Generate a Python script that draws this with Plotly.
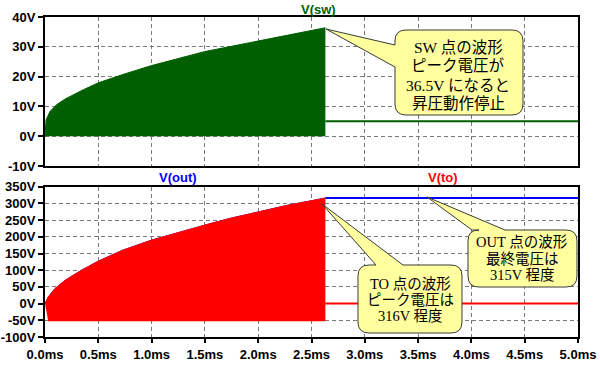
import plotly.graph_objects as go

# ---------------- data ----------------
t_stop = 2.63  # ms, switching stops here
t_end = 5.0

sw_t = [0, 0.01, 0.047, 0.11, 0.19, 0.27, 0.36, 0.5, 0.73, 1.0, 1.2, 1.36, 1.5, 1.735, 2.0, 2.27, 2.5, 2.63]
sw_peak = [0, 5.5, 8.3, 10.6, 12.5, 14.0, 15.6, 17.9, 20.7, 23.7, 25.7, 27.1, 28.4, 30.1, 32.0, 33.9, 35.5, 36.4]
sw_low_t = [0, 2.63]
sw_low = [0, 0]
sw_hold = 5.0

to_t = [0, 0.031, 0.094, 0.19, 0.266, 0.344, 0.5, 0.73, 1.0, 1.27, 1.5, 1.735, 2.0, 2.27, 2.5, 2.63]
to_peak = [0, 20, 45, 70, 85, 100, 127, 160, 190, 215, 235, 255, 275, 294, 308, 316]
to_low_t = [0, 0.03, 2.63]
to_low = [0, -53, -53]
to_hold = 0

out_t = [0, 0.031, 0.094, 0.19, 0.266, 0.344, 0.5, 0.73, 1.0, 1.27, 1.5, 1.735, 2.0, 2.27, 2.5, 2.63]
out_v = [0, 20, 45, 70, 85, 100, 127, 160, 190, 215, 235, 255, 275, 294, 308, 316]
out_hold = 316

x_ticks = [0, 0.5, 1.0, 1.5, 2.0, 2.5, 3.0, 3.5, 4.0, 4.5, 5.0]
x_labels = ["0.0ms", "0.5ms", "1.0ms", "1.5ms", "2.0ms", "2.5ms", "3.0ms", "3.5ms", "4.0ms", "4.5ms", "5.0ms"]
top_ticks = [-10, 0, 10, 20, 30, 40]
top_labels = ["-10V", "0V", "10V", "20V", "30V", "40V"]
bot_ticks = [-100, -50, 0, 50, 100, 150, 200, 250, 300, 350]
bot_labels = ["-100V", "-50V", "0V", "50V", "100V", "150V", "200V", "250V", "300V", "350V"]

GREEN = "#005f00"
RED = "#ff0000"
BLUE = "#0000ff"

# ---------------- figure ----------------
W, H = 600, 366
ML, MR, MT, MB = 45, 22, 17, 29
PW, PH = W - ML - MR, H - MT - MB


def px(xp):
    return (xp - ML) / PW


def py(yp):
    return (H - MB - yp) / PH


def bold(labels):
    return [f"<b>{s}</b>" for s in labels]


fig = go.Figure()

# top: V(sw)
fig.add_trace(go.Scatter(x=sw_low_t, y=sw_low, mode="lines", line=dict(color=GREEN, width=0),
                         xaxis="x", yaxis="y", showlegend=False, hoverinfo="skip"))
fig.add_trace(go.Scatter(x=sw_t, y=sw_peak, mode="lines", line=dict(color=GREEN, width=1),
                         fill="tonexty", fillcolor=GREEN, xaxis="x", yaxis="y", showlegend=False))
fig.add_trace(go.Scatter(x=[t_stop, t_end], y=[sw_hold, sw_hold], mode="lines",
                         line=dict(color=GREEN, width=2), xaxis="x", yaxis="y", showlegend=False))

# bottom: V(out) then V(to)
fig.add_trace(go.Scatter(x=out_t, y=out_v, mode="lines", line=dict(color=BLUE, width=1),
                         xaxis="x2", yaxis="y2", showlegend=False))
fig.add_trace(go.Scatter(x=to_low_t, y=to_low, mode="lines", line=dict(color=RED, width=0),
                         xaxis="x2", yaxis="y2", showlegend=False, hoverinfo="skip"))
fig.add_trace(go.Scatter(x=to_t, y=to_peak, mode="lines", line=dict(color=RED, width=1),
                         fill="tonexty", fillcolor=RED, xaxis="x2", yaxis="y2", showlegend=False))
fig.add_trace(go.Scatter(x=[t_stop, t_end], y=[to_hold, to_hold], mode="lines",
                         line=dict(color=RED, width=2), xaxis="x2", yaxis="y2", showlegend=False))
fig.add_trace(go.Scatter(x=[t_stop, t_end], y=[out_hold, out_hold], mode="lines",
                         line=dict(color=BLUE, width=2), xaxis="x2", yaxis="y2", showlegend=False))

tickfont = dict(family="Liberation Sans, Arial, sans-serif", size=13, color="black")
common_axis = dict(showline=True, linewidth=2, linecolor="black", mirror=True,
                   showgrid=True, gridcolor="#7a7a7a", gridwidth=1, griddash="4px,3px",
                   zeroline=False, tickfont=tickfont, tickcolor="black", tickwidth=2,
                   automargin=False, tickmode="array")

top_dom = [1 - (166 - MT) / PH, 1]
bot_dom = [0, 1 - (186.7 - MT) / PH]

fig.update_layout(
    width=W, height=H,
    margin=dict(l=ML, r=MR, t=MT, b=MB, pad=0, autoexpand=False),
    paper_bgcolor="white", plot_bgcolor="white",
    showlegend=False,
    xaxis=dict(range=[0, t_end], domain=[0, 1], anchor="y", tickvals=x_ticks,
               showticklabels=False, ticks="", **common_axis),
    yaxis=dict(range=[-10, 40], domain=top_dom, anchor="x", tickvals=top_ticks,
               ticktext=bold(top_labels), ticks="outside", ticklen=5, **common_axis),
    xaxis2=dict(range=[0, t_end], domain=[0, 1], anchor="y2", tickvals=x_ticks,
                ticktext=bold(x_labels), ticks="outside", ticklen=4, **common_axis),
    yaxis2=dict(range=[-100, 350], domain=bot_dom, anchor="x2", tickvals=bot_ticks,
                ticktext=bold(bot_labels), ticks="outside", ticklen=5, **common_axis),
)

# trace titles
title_font = dict(family="Liberation Sans, Arial, sans-serif", size=13)
for txt, xp, yp, col in [("V(sw)", 318, 9, GREEN), ("V(out)", 178, 177, BLUE), ("V(to)", 443, 177, RED)]:
    fig.add_annotation(text=f"<b>{txt}</b>", x=px(xp), y=py(yp), xref="paper", yref="paper",
                       showarrow=False, xanchor="center", yanchor="middle",
                       font=dict(color=col, **title_font))


# callout bubbles (pixel geometry -> paper coords)
def bubble(x0, y0, x1, y1, r, edge, b0, b1, tip):
    def P(x, y):
        return f"{px(x):.5f},{py(y):.5f}"

    d = f"M{P(x0 + r, y0)}"
    if edge == "top":
        d += f" L{P(b0, y0)} L{P(*tip)} L{P(b1, y0)}"
    d += f" L{P(x1 - r, y0)} Q{P(x1, y0)} {P(x1, y0 + r)}"
    d += f" L{P(x1, y1 - r)} Q{P(x1, y1)} {P(x1 - r, y1)}"
    d += f" L{P(x0 + r, y1)} Q{P(x0, y1)} {P(x0, y1 - r)}"
    if edge == "left":
        d += f" L{P(x0, b1)} L{P(*tip)} L{P(x0, b0)}"
    d += f" L{P(x0, y0 + r)} Q{P(x0, y0)} {P(x0 + r, y0)} Z"
    return d


BUB_FILL = "#ffffa0"
BUB_LINE = "#3a3a3a"
callouts = [
    dict(box=(395, 30, 523, 115), edge="left", base=(45, 67), tip=(326, 29),
         lines=["SW 点の波形", "ピーク電圧が", "36.5V になると", "昇圧動作停止"],
         cx=458, ys=[47, 66, 85, 103.5], size=15.5),
    dict(box=(358, 265, 462, 333), edge="top", base=(376, 403), tip=(322, 204),
         lines=["TO 点の波形", "ピーク電圧は", "316V 程度"],
         cx=410, ys=[283.5, 300, 316], size=14.5),
    dict(box=(468, 230, 577, 287), edge="top", base=(472, 505), tip=(427, 197),
         lines=["OUT 点の波形", "最終電圧は", "315V 程度"],
         cx=522, ys=[242, 258.5, 275], size=14.5),
]

for c in callouts:
    x0, y0, x1, y1 = c["box"]
    fig.add_shape(type="path", path=bubble(x0, y0, x1, y1, 11, c["edge"], c["base"][0], c["base"][1], c["tip"]),
                  xref="paper", yref="paper", fillcolor=BUB_FILL, line=dict(color=BUB_LINE, width=1),
                  layer="above")
    for line, yy in zip(c["lines"], c["ys"]):
        fig.add_annotation(text=line, x=px(c["cx"]), y=py(yy), xref="paper", yref="paper",
                           showarrow=False, xanchor="center", yanchor="middle",
                           font=dict(family="Liberation Serif, Noto Sans CJK JP, serif",
                                     size=c["size"], color="black"))

# remove the default page margin so the 600x366 figure fills the window exactly
fig.write_html("out.html", config={"displayModeBar": False},
               post_script="document.body.style.margin='0px';")
